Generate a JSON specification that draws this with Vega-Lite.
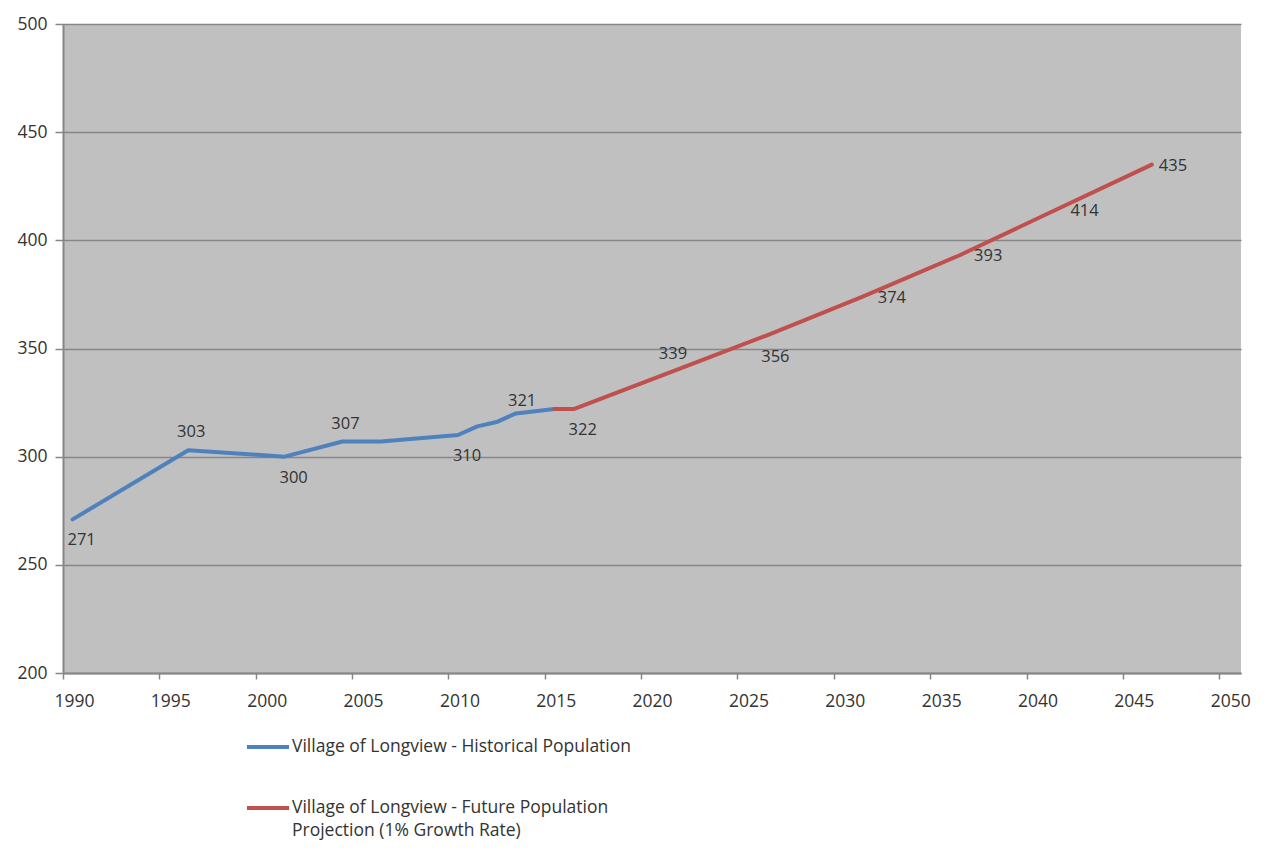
{
  "$schema": "https://vega.github.io/schema/vega-lite/v6.json",
  "width": 1178,
  "height": 649,
  "autosize": {"type": "none"},
  "padding": {"left": 63, "top": 24, "right": 32, "bottom": 179},
  "background": "white",
  "config": {
    "view": {"fill": "#c0c0c0", "stroke": null},
    "font": "Open Sans"
  },
  "data": {
    "values": [
      {"year": 1990, "population": 271, "series": "Village of Longview - Historical Population"},
      {"year": 1996, "population": 303, "series": "Village of Longview - Historical Population"},
      {"year": 2001, "population": 300, "series": "Village of Longview - Historical Population"},
      {"year": 2004, "population": 307, "series": "Village of Longview - Historical Population"},
      {"year": 2006, "population": 307, "series": "Village of Longview - Historical Population"},
      {"year": 2010, "population": 310, "series": "Village of Longview - Historical Population"},
      {"year": 2011, "population": 314, "series": "Village of Longview - Historical Population"},
      {"year": 2012, "population": 316, "series": "Village of Longview - Historical Population"},
      {"year": 2013, "population": 320, "series": "Village of Longview - Historical Population"},
      {"year": 2014, "population": 321, "series": "Village of Longview - Historical Population"},
      {"year": 2015, "population": 322, "series": "Village of Longview - Historical Population"},
      {"year": 2015, "population": 322, "series": "Village of Longview - Future Population Projection (1% Growth Rate)"},
      {"year": 2016, "population": 322, "series": "Village of Longview - Future Population Projection (1% Growth Rate)"},
      {"year": 2021, "population": 339, "series": "Village of Longview - Future Population Projection (1% Growth Rate)"},
      {"year": 2026, "population": 356, "series": "Village of Longview - Future Population Projection (1% Growth Rate)"},
      {"year": 2031, "population": 374, "series": "Village of Longview - Future Population Projection (1% Growth Rate)"},
      {"year": 2036, "population": 393, "series": "Village of Longview - Future Population Projection (1% Growth Rate)"},
      {"year": 2041, "population": 414, "series": "Village of Longview - Future Population Projection (1% Growth Rate)"},
      {"year": 2046, "population": 435, "series": "Village of Longview - Future Population Projection (1% Growth Rate)"}
    ]
  },
  "encoding": {
    "x": {
      "field": "year",
      "type": "quantitative",
      "scale": {"domain": [1989.5, 2050.63], "nice": false, "zero": false},
      "axis": {
        "title": null,
        "values": [1990, 1995, 2000, 2005, 2010, 2015, 2020, 2025, 2030, 2035, 2040, 2045, 2050],
        "format": "d",
        "grid": false,
        "tickOffset": -9.64,
        "labelOffset": 11,
        "labelFlush": false,
        "labelOverlap": false,
        "domainColor": "#868686",
        "domainWidth": 2,
        "tickColor": "#868686",
        "tickWidth": 1.5,
        "tickSize": 6,
        "labelPadding": 13,
        "labelFontSize": 17.5,
        "labelColor": "#333333"
      }
    },
    "y": {
      "field": "population",
      "type": "quantitative",
      "scale": {"domain": [200, 500], "nice": false, "zero": false},
      "axis": {
        "title": null,
        "values": [200, 250, 300, 350, 400, 450, 500],
        "grid": true,
        "gridColor": "#868686",
        "gridWidth": 1.5,
        "domainColor": "#868686",
        "domainWidth": 2,
        "tickColor": "#868686",
        "tickWidth": 1.5,
        "tickSize": 8,
        "labelPadding": 8,
        "labelFontSize": 17.5,
        "labelColor": "#333333"
      }
    }
  },
  "layer": [
    {
      "mark": {"type": "line", "strokeWidth": 4, "strokeCap": "round", "strokeJoin": "round"},
      "encoding": {
        "color": {
          "field": "series",
          "type": "nominal",
          "scale": {
            "domain": [
              "Village of Longview - Historical Population",
              "Village of Longview - Future Population Projection (1% Growth Rate)"
            ],
            "range": ["#4f81bd", "#c0504d"]
          },
          "legend": {
            "title": null,
            "orient": "none",
            "legendX": 182,
            "legendY": 700,
            "direction": "vertical",
            "symbolType": "stroke",
            "symbolSize": 1764,
            "symbolStrokeWidth": 4,
            "labelFontSize": 17.5,
            "labelColor": "#333333",
            "labelLimit": 600,
            "labelOffset": 1,
            "rowPadding": 29,
            "labelExpr": "indexof(datum.label, 'Future') >= 0 ? ['Village of Longview - Future Population', 'Projection (1% Growth Rate)'] : datum.label",
            "encode": {
              "labels": {"update": {"lineHeight": {"value": 23}}}
            }
          }
        }
      }
    },
    {
      "transform": [{"filter": {"field": "year", "oneOf": [1996, 2004, 2021]}}],
      "mark": {"type": "text", "dx": 3, "dy": -18, "fontSize": 16.5, "color": "#333333"},
      "encoding": {"text": {"field": "population", "type": "quantitative"}}
    },
    {
      "transform": [{"filter": {"field": "year", "oneOf": [1990, 2001, 2010, 2016, 2026]}}],
      "mark": {"type": "text", "dx": 9, "dy": 21, "fontSize": 16.5, "color": "#333333"},
      "encoding": {"text": {"field": "population", "type": "quantitative"}}
    },
    {
      "transform": [{"filter": {"field": "year", "oneOf": [2014]}}],
      "mark": {"type": "text", "dx": -13, "dy": -10, "fontSize": 16.5, "color": "#333333"},
      "encoding": {"text": {"field": "population", "type": "quantitative"}}
    },
    {
      "transform": [{"filter": {"field": "year", "oneOf": [2031, 2036, 2041]}}],
      "mark": {"type": "text", "align": "left", "dx": 15, "dy": 1, "fontSize": 16.5, "color": "#333333"},
      "encoding": {"text": {"field": "population", "type": "quantitative"}}
    },
    {
      "transform": [{"filter": {"field": "year", "oneOf": [2046]}}],
      "mark": {"type": "text", "align": "left", "dx": 7, "dy": 1, "fontSize": 16.5, "color": "#333333"},
      "encoding": {"text": {"field": "population", "type": "quantitative"}}
    }
  ]
}
